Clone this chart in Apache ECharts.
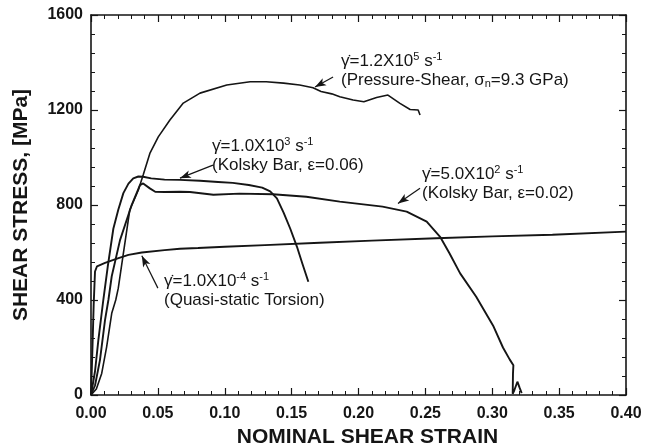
<!DOCTYPE html>
<html>
<head>
<meta charset="utf-8">
<script src="https://cdn.jsdelivr.net/npm/echarts@6/dist/echarts.min.js"></script>
<style>
  html, body { margin: 0; background: #fff; }
  #chart { width: 651px; height: 448px; }
</style>
</head>
<body>
<div id="chart"></div>
<script>
// [nominal shear strain, shear stress MPa]
const torsion = [[0, 0], [0.001, 180], [0.002, 380], [0.003, 520], [0.0045, 542], [0.0105, 556], [0.02, 575],
  [0.028, 590], [0.038, 600], [0.055, 610], [0.0665, 616], [0.08, 619], [0.10, 624], [0.13, 631], [0.171, 641],
  [0.21, 650], [0.258, 660], [0.30, 668], [0.345, 675], [0.40, 688]]

const pressureShear = [[0, 0], [0.004, 25], [0.008, 91], [0.0117, 203], [0.0155, 344], [0.0185, 400], [0.0204, 450],
  [0.0242, 596], [0.029, 779], [0.0354, 863], [0.039, 926], [0.044, 1017], [0.0503, 1087], [0.059, 1158],
  [0.069, 1229], [0.0815, 1271], [0.1015, 1305], [0.119, 1319], [0.131, 1319], [0.144, 1313], [0.156, 1305],
  [0.166, 1294], [0.172, 1278], [0.18, 1268], [0.186, 1256], [0.196, 1242], [0.204, 1235], [0.2135, 1253],
  [0.222, 1263], [0.231, 1228], [0.2386, 1202], [0.2446, 1200], [0.246, 1179]]

const kolsky06 = [[0, 0], [0.003, 100], [0.0055, 231], [0.0092, 400], [0.0125, 540], [0.0167, 700], [0.0204, 780],
  [0.0242, 850], [0.028, 890], [0.0316, 912], [0.0354, 920], [0.039, 919], [0.045, 912], [0.055, 907],
  [0.0665, 906], [0.0815, 902], [0.095, 897], [0.106, 893], [0.118, 884], [0.128, 873], [0.134, 857],
  [0.139, 828], [0.144, 768], [0.149, 700], [0.154, 624], [0.158, 554], [0.1625, 477]]

const kolsky02 = [[0, 0], [0.003, 40], [0.0067, 147], [0.0105, 316], [0.013, 400], [0.0155, 500], [0.0217, 652],
  [0.0304, 800], [0.0366, 884], [0.039, 891], [0.044, 870], [0.048, 856], [0.055, 855], [0.0665, 856],
  [0.074, 855], [0.0915, 843], [0.111, 848], [0.136, 845], [0.161, 835], [0.186, 814], [0.218, 793],
  [0.236, 772], [0.251, 730], [0.261, 666], [0.268, 597], [0.276, 512], [0.288, 414], [0.301, 288],
  [0.308, 200], [0.313, 150], [0.3158, 125], [0.3155, 90], [0.3153, 5], [0.3165, 20], [0.3188, 56],
  [0.3205, 30], [0.322, 8]]

const xTickLabels = ['0.00', '0.05', '0.10', '0.15', '0.20', '0.25', '0.30', '0.35', '0.40']
const yTickLabels = ['0', '400', '800', '1200', '1600']

// annotation text, anchored (left, first line) in data units
const notes = [
  { at: [0.1869, 1406], text: '{g|γ̇}=1.2X10{sup|5} s{sup|-1}\n(Pressure-Shear, σ{sub|n}=9.3 GPa)' },
  { at: [0.0905, 1048], text: '{g|γ̇}=1.0X10{sup|3} s{sup|-1}\n(Kolsky Bar, ε=0.06)' },
  { at: [0.2475, 930], text: '{g|γ̇}=5.0X10{sup|2} s{sup|-1}\n(Kolsky Bar, ε=0.02)' },
  { at: [0.0546, 480], text: '{g|γ̇}=1.0X10{sup|-4} s{sup|-1}\n(Quasi-static Torsion)' }
]
// pointer arrows: from label to curve
const arrows = [
  [[0.181, 1339], [0.1675, 1297]],
  [[0.0912, 968], [0.0665, 913]],
  [[0.246, 871], [0.2295, 806]],
  [[0.050, 450], [0.038, 586]]
]

const ink = '#151515'
const font = "'Liberation Sans', Arial, Helvetica, sans-serif"

function frameAxis (extra) {
  return Object.assign({
    type: 'value',
    axisLine: { show: true, onZero: false, lineStyle: { color: ink, width: 1.6 } },
    axisTick: { show: true, inside: true, length: 7, lineStyle: { color: ink, width: 1.2 } },
    minorTick: { show: true, splitNumber: 5, length: 4, lineStyle: { color: ink, width: 1 } },
    splitLine: { show: false },
    minorSplitLine: { show: false }
  }, extra)
}

function curve (data) {
  return {
    type: 'line',
    data: data,
    showSymbol: false,
    symbol: 'none',
    smooth: false,
    lineStyle: { color: ink, width: 1.9 },
    silent: true
  }
}

const chart = echarts.init(document.getElementById('chart'))

const option = {
  animation: false,
  backgroundColor: '#fff',
  grid: { left: 91, right: 25, top: 15, bottom: 53, containLabel: false, outerBoundsMode: 'none' },
  xAxis: [
    frameAxis({
      position: 'bottom', min: 0, max: 0.4, interval: 0.05,
      axisLabel: {
        margin: 11, color: ink, fontSize: 16, fontWeight: 'bold', fontFamily: font,
        formatter: v => xTickLabels[Math.round(v / 0.05)]
      },
      name: 'NOMINAL SHEAR STRAIN', nameLocation: 'middle', nameGap: 32,
      nameTextStyle: { color: ink, fontSize: 21, fontWeight: 'bold', fontFamily: font, padding: [0, 0, 0, 18] }
    }),
    frameAxis({ position: 'top', min: 0, max: 0.4, interval: 0.05, axisLabel: { show: false } })
  ],
  yAxis: [
    frameAxis({
      position: 'left', min: 0, max: 1600, interval: 400,
      axisLabel: {
        margin: 8, color: ink, fontSize: 16, fontWeight: 'bold', fontFamily: font,
        formatter: v => yTickLabels[Math.round(v / 400)]
      },
      name: 'SHEAR STRESS, [MPa]', nameLocation: 'middle', nameGap: 59, nameRotate: 90,
      nameTextStyle: { color: ink, fontSize: 21, fontWeight: 'bold', fontFamily: font }
    }),
    frameAxis({ position: 'right', min: 0, max: 1600, interval: 400, axisLabel: { show: false } })
  ],
  series: [
    Object.assign(curve(torsion), {
      markLine: {
        silent: true,
        animation: false,
        label: { show: false },
        lineStyle: { color: ink, width: 1.2, type: 'solid' },
        data: arrows.map(a => [
          { coord: a[0], symbol: 'none' },
          { coord: a[1], symbol: 'arrow', symbolSize: [6, 11] }
        ])
      }
    }),
    Object.assign(curve(pressureShear), { lineStyle: { color: ink, width: 1.6 } }),
    curve(kolsky06),
    curve(kolsky02)
  ]
}

chart.setOption(option)

const rich = {
  g: { fontSize: 17, fontFamily: font, fill: ink },
  sup: { fontSize: 11, fontFamily: font, fill: ink, verticalAlign: 'top', lineHeight: 19 },
  sub: { fontSize: 11, fontFamily: font, fill: ink, verticalAlign: 'bottom', lineHeight: 19 }
}

chart.setOption({
  graphic: notes.map(n => {
    const p = chart.convertToPixel({ gridIndex: 0 }, n.at)
    return {
      type: 'text',
      x: p[0],
      y: p[1] - 9.5,
      silent: true,
      style: {
        text: n.text,
        fill: ink,
        fontSize: 17,
        fontFamily: font,
        lineHeight: 19,
        verticalAlign: 'top',
        rich: rich
      }
    }
  })
})
</script>
</body>
</html>
